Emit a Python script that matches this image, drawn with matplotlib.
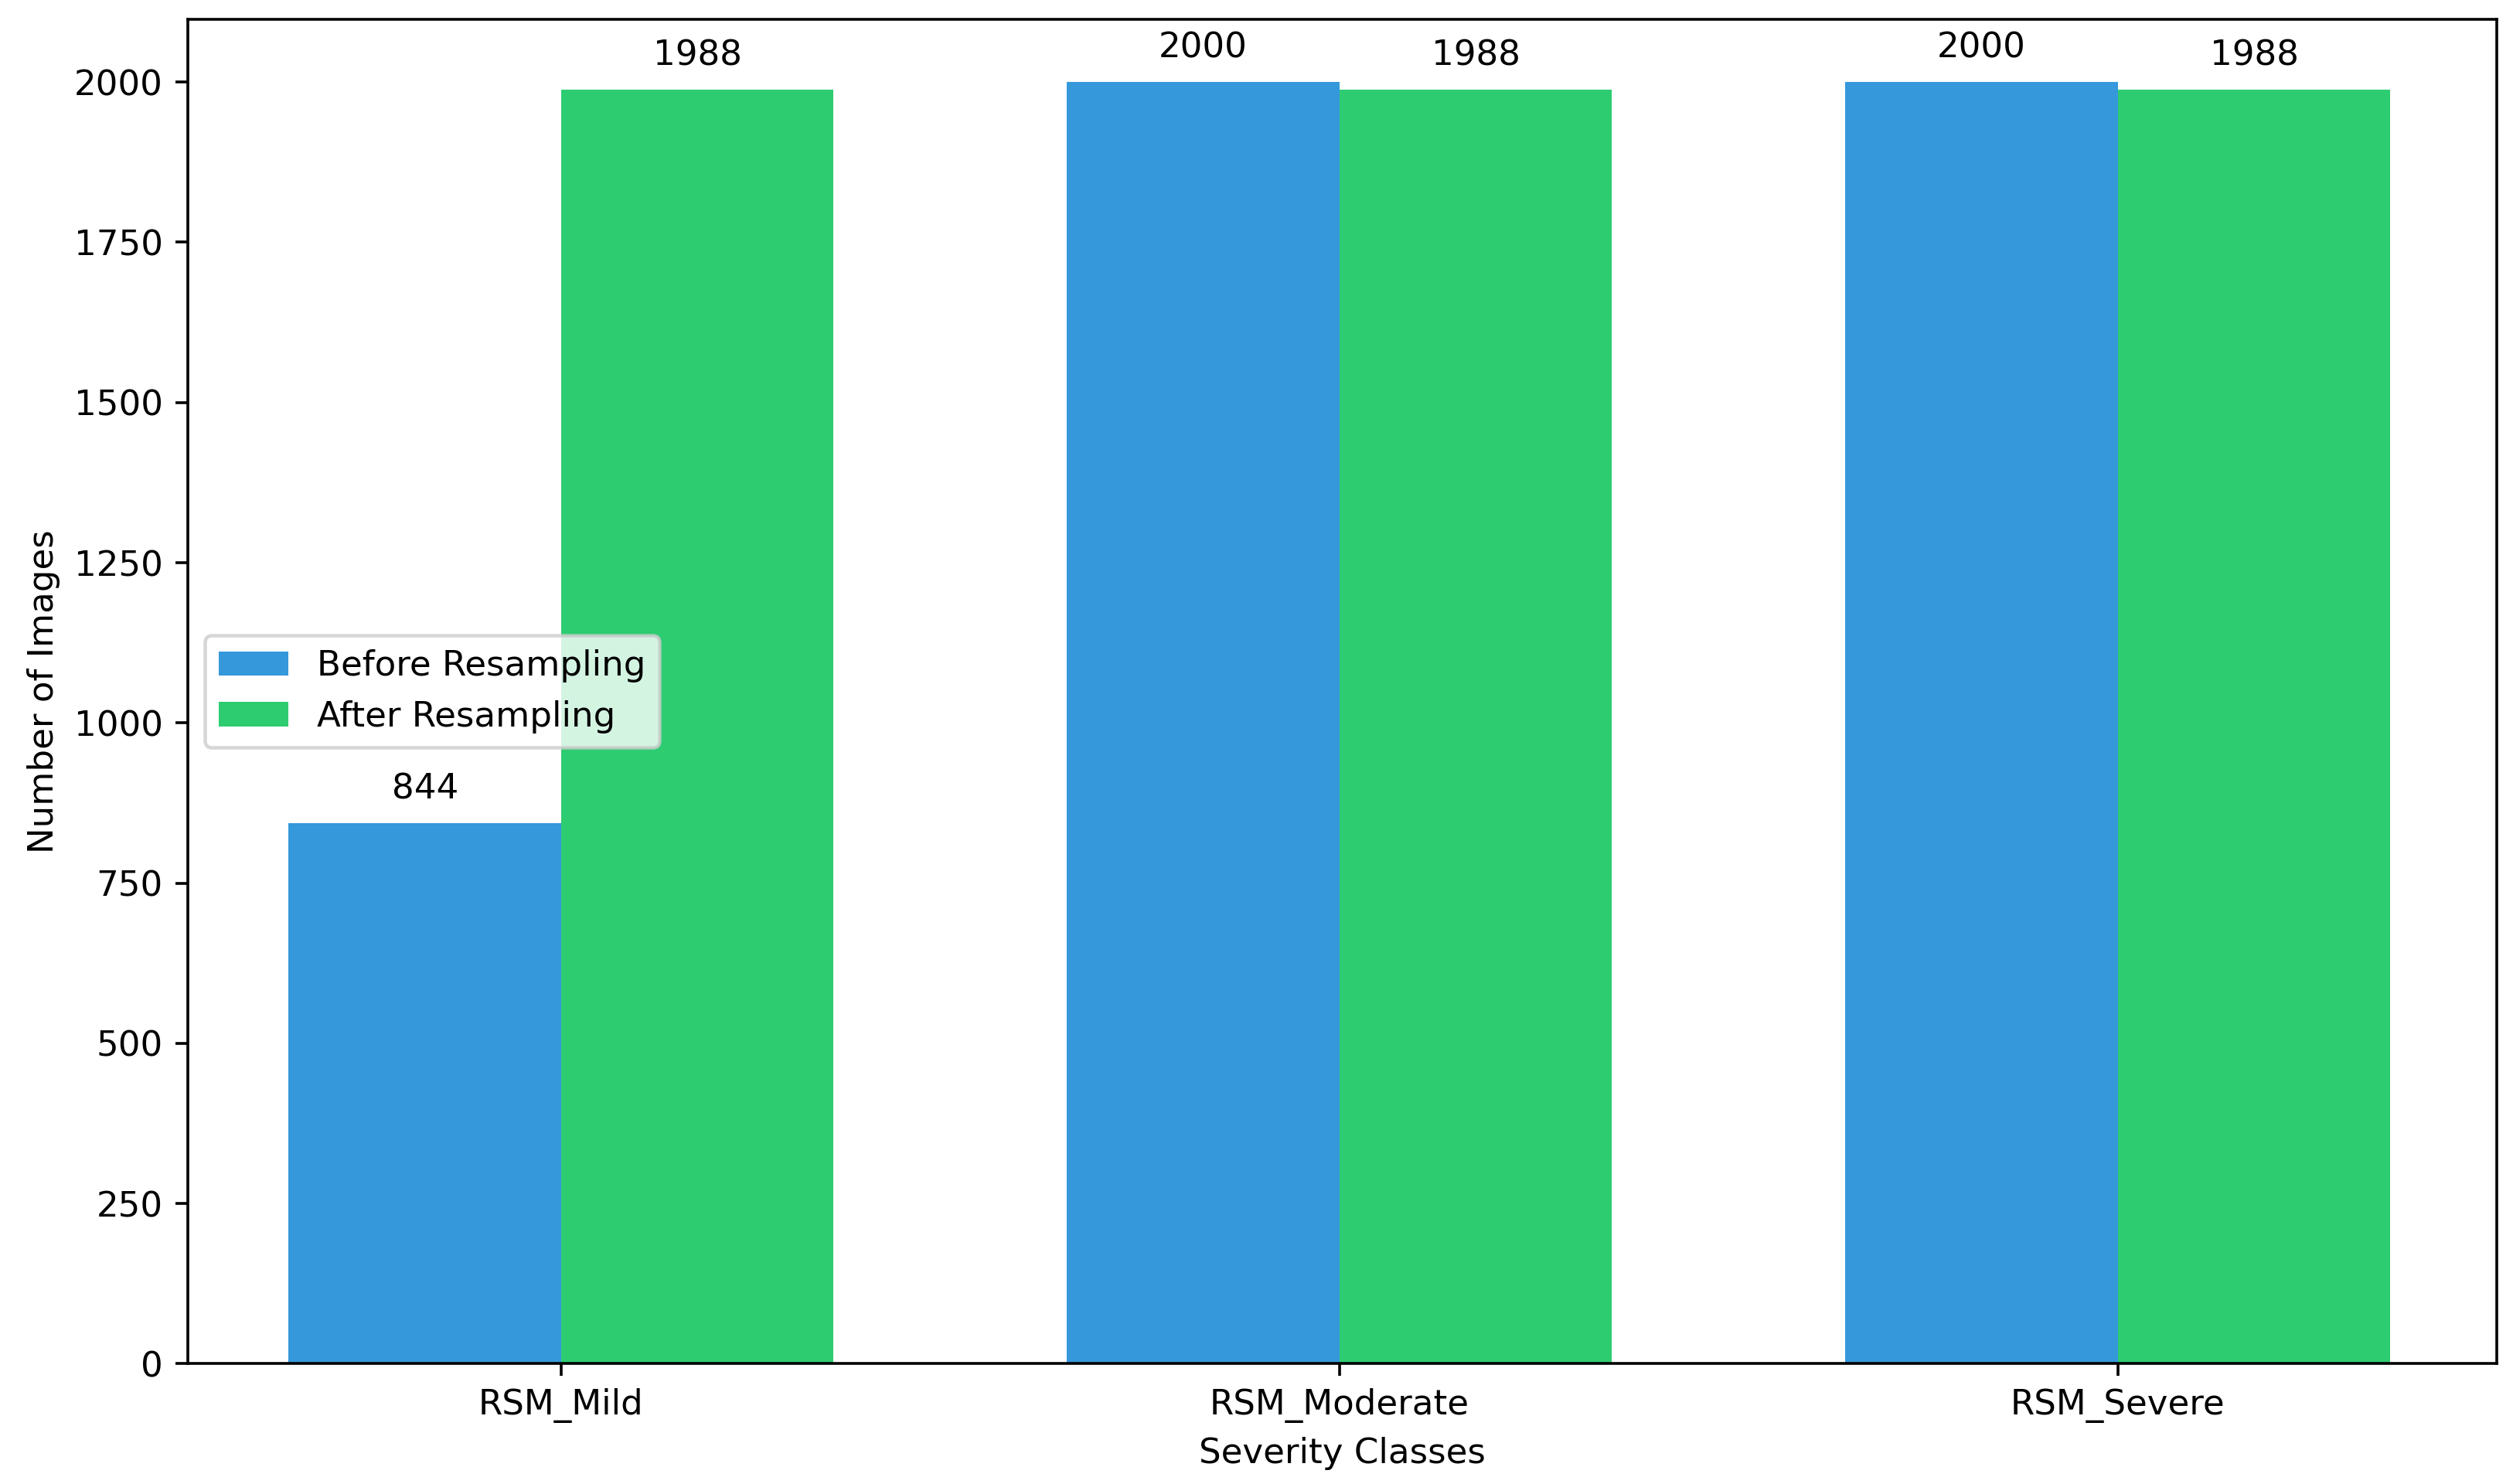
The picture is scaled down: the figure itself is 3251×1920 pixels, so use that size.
import matplotlib
matplotlib.use("Agg")
import matplotlib.pyplot as plt
import numpy as np

categories = ["RSM_Mild", "RSM_Moderate", "RSM_Severe"]
before = [844, 2000, 2000]
after = [1988, 1988, 1988]

fig = plt.figure(figsize=(10, 5.906), dpi=325.1)
ax = fig.add_axes([0.0746, 0.081, 0.919, 0.906])
x = np.arange(len(categories))
w = 0.35
b1 = ax.bar(x - w/2, before, w, color="#3498db", label="Before Resampling")
b2 = ax.bar(x + w/2, after, w, color="#2ecc71", label="After Resampling")
for bars in (b1, b2):
    for r in bars:
        ax.annotate(f"{int(r.get_height())}", (r.get_x() + r.get_width()/2, r.get_height()),
                    xytext=(0, 5), textcoords="offset points", ha="center", va="bottom", fontsize=10)
ax.set_xticks(x)
ax.set_xticklabels(categories)
ax.set_xlim(-0.48, 2.487)
ax.set_ylim(0, 2098)
ax.set_xlabel("Severity Classes")
ax.set_ylabel("Number of Images")
ax.legend(loc="center left", fontsize=10)
fig.savefig("out.png")
